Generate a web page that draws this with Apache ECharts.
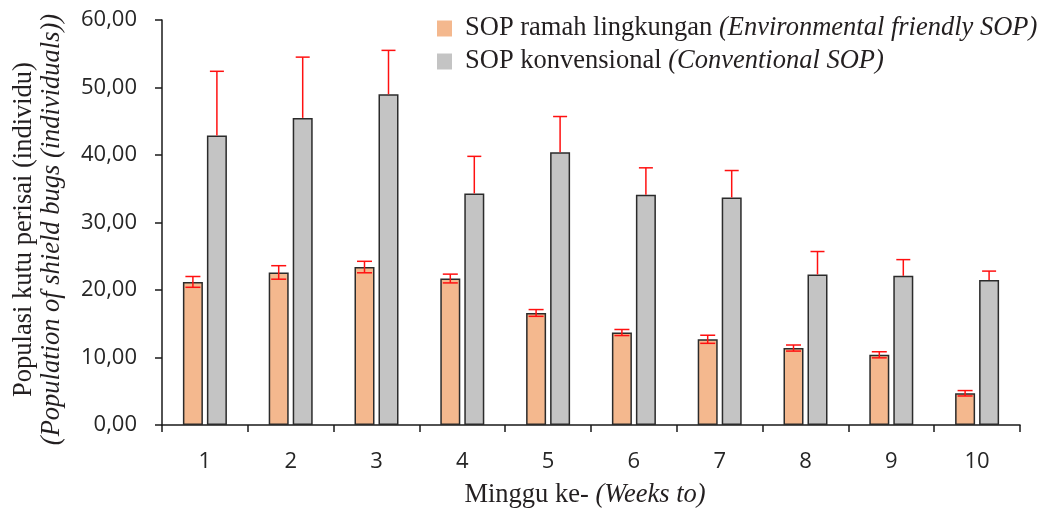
<!DOCTYPE html>
<html>
<head>
<meta charset="utf-8">
<script src="https://cdn.jsdelivr.net/npm/echarts@6/dist/echarts.min.js"></script>
<style>
html,body{margin:0;padding:0;background:#fff;}
#chart{width:1041px;height:510px;}
</style>
</head>
<body>
<div id="chart"></div>
<script>
var weeks = ['1','2','3','4','5','6','7','8','9','10'];
var ecoMean = [21.2, 22.6, 23.4, 21.7, 16.6, 13.7, 12.7, 11.4, 10.4, 4.7];
var ecoErr  = [0.8, 1.0, 0.85, 0.65, 0.5, 0.45, 0.6, 0.45, 0.45, 0.4];
var convMean = [42.9, 45.5, 49.0, 34.3, 40.4, 34.1, 33.7, 22.3, 22.1, 21.5];
var convErr  = [9.5, 9.0, 6.5, 5.5, 5.3, 4.0, 4.0, 3.4, 2.4, 1.3];
var yTicks = [0, 10, 20, 30, 40, 50, 60];

var ecoName = 'SOP ramah lingkungan';
var convName = 'SOP konvensional';
var serifSize = 26.5;

function errData(mean, err) {
  return mean.map(function (m, i) { return [i, m, err[i]]; });
}

function makeErrRender(offset, capW, both) {
  return function (params, api) {
    var i = api.value(0), m = api.value(1), e = api.value(2);
    var top = api.coord([i, m + e]);
    var mid = api.coord([i, m]);
    var bot = api.coord([i, m - e]);
    var x = top[0] + offset;
    var style = { stroke: '#ff1010', lineWidth: 1.5 };
    var children = [
      { type: 'line', shape: { x1: x, y1: top[1], x2: x, y2: both ? bot[1] : mid[1] }, style: style },
      { type: 'line', shape: { x1: x - capW / 2, y1: top[1], x2: x + capW / 2, y2: top[1] }, style: style }
    ];
    if (both) {
      children.push({ type: 'line', shape: { x1: x - capW / 2, y1: bot[1], x2: x + capW / 2, y2: bot[1] }, style: style });
    }
    return { type: 'group', children: children };
  };
}

var chart = echarts.init(document.getElementById('chart'), null, { renderer: 'canvas' });
var option = {
  animation: false,
  backgroundColor: '#ffffff',
  grid: { left: 162, right: 21, top: 20, bottom: 85, containLabel: false, outerBoundsMode: 'none' },
  legend: {
    data: [ecoName, convName],
    orient: 'vertical',
    left: 437,
    top: 15,
    padding: 0,
    itemWidth: 15,
    itemHeight: 16,
    itemGap: 6,
    icon: 'rect',
    itemStyle: { borderWidth: 0 },
    formatter: function (name) {
      if (name === ecoName) return '{n|SOP ramah lingkungan }{i|(Environmental friendly SOP)}';
      return '{n|SOP konvensional }{i|(Conventional SOP)}';
    },
    textStyle: {
      fontFamily: 'Liberation Serif',
      fontSize: serifSize,
      color: '#231f20',
      padding: [0, 0, 0, 8],
      rich: {
        n: { fontFamily: 'Liberation Serif', fontSize: serifSize, color: '#231f20', lineHeight: 26 },
        i: { fontFamily: 'Liberation Serif', fontSize: serifSize, fontStyle: 'italic', color: '#231f20', lineHeight: 26 }
      }
    }
  },
  xAxis: {
    type: 'category',
    data: weeks,
    boundaryGap: true,
    axisLine: { lineStyle: { color: '#1a1a1a', width: 1.5 } },
    axisTick: { show: true, length: 7, lineStyle: { color: '#1a1a1a', width: 1.5 } },
    axisLabel: { fontFamily: 'Open Sans', fontSize: 22, color: '#262626', margin: 26 },
    name: '{n|Minggu ke- }{i|(Weeks to)}',
    nameLocation: 'middle',
    nameGap: 57,
    nameTextStyle: {
      padding: [0, 12, 0, 0],
      rich: {
        n: { fontFamily: 'Liberation Serif', fontSize: serifSize, color: '#231f20' },
        i: { fontFamily: 'Liberation Serif', fontSize: serifSize, fontStyle: 'italic', color: '#231f20' }
      }
    }
  },
  yAxis: {
    type: 'value',
    min: 0,
    max: 60,
    interval: 10,
    axisLine: { show: true, lineStyle: { color: '#1a1a1a', width: 1.5 } },
    axisTick: { show: true, length: 7, lineStyle: { color: '#1a1a1a', width: 1.5 } },
    splitLine: { show: false },
    axisLabel: {
      fontFamily: 'Open Sans', fontSize: 22, color: '#262626', margin: 25,
      formatter: function (v) { return v.toFixed(2).replace('.', ','); }
    },
    name: '{a|Populasi kutu perisai (individu)}\n{b|(Population of shield bugs (individuals))}',
    nameLocation: 'middle',
    nameRotate: 90,
    nameGap: 96,
    nameTextStyle: {
      padding: [0, 14, 0, 0],
      rich: {
        a: { fontFamily: 'Liberation Serif', fontSize: serifSize, color: '#231f20', lineHeight: 28, align: 'center' },
        b: { fontFamily: 'Liberation Serif', fontSize: serifSize, fontStyle: 'italic', color: '#231f20', lineHeight: 28, align: 'center' }
      }
    }
  },
  series: [
    {
      name: ecoName,
      type: 'bar',
      data: ecoMean,
      barWidth: 20,
      barGap: '20%',
      itemStyle: { color: '#f4b88e', borderColor: '#2b2b2b', borderWidth: 1.5 }
    },
    {
      name: convName,
      type: 'bar',
      data: convMean,
      barWidth: 20,
      barGap: '20%',
      itemStyle: { color: '#c4c4c4', borderColor: '#2b2b2b', borderWidth: 1.5 }
    },
    {
      type: 'custom',
      renderItem: makeErrRender(-12, 15, true),
      data: errData(ecoMean, ecoErr),
      encode: { x: 0, y: 1 },
      z: 10
    },
    {
      type: 'custom',
      renderItem: makeErrRender(12, 14, false),
      data: errData(convMean, convErr),
      encode: { x: 0, y: 1 },
      z: 10
    }
  ]
};
chart.setOption(option);
</script>
</body>
</html>
